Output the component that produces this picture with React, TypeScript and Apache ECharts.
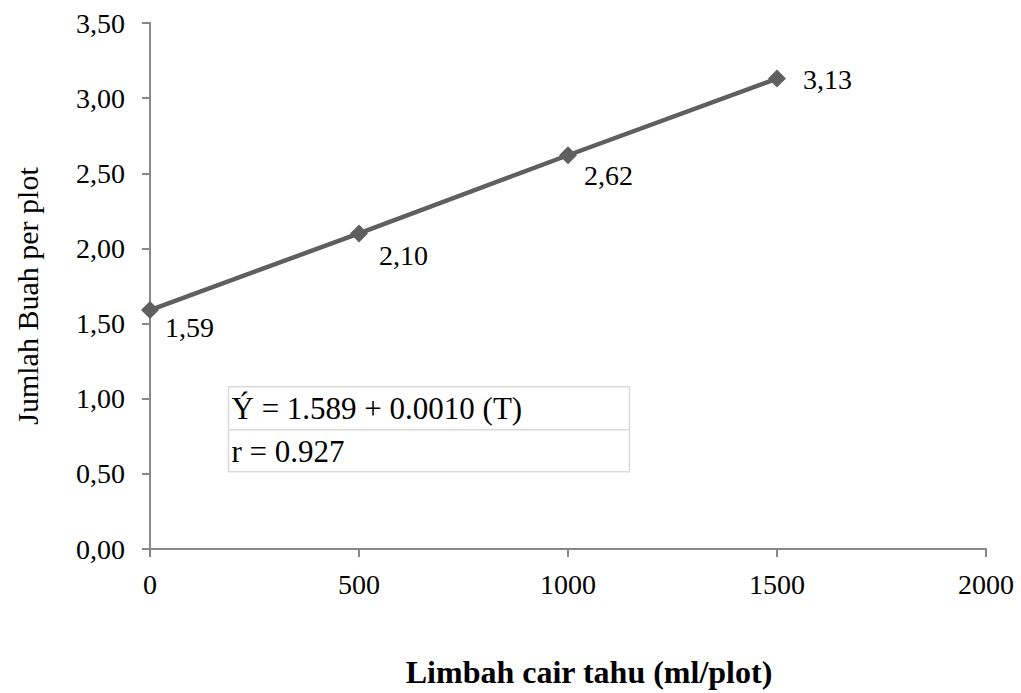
import React, { useEffect, useRef } from "react";
import * as echarts from "echarts";

const doses = [0, 500, 1000, 1500];
const fruitCount = [1.59, 2.1, 2.62, 3.13];
const equationLines = ["Ý = 1.589 + 0.0010 (T)", "r = 0.927"];
const xAxisTitle = "Limbah cair tahu (ml/plot)";
const yAxisTitle = "Jumlah Buah per plot";

const FONT = "'Liberation Serif', 'Times New Roman', serif";
const fmt = (v: number) => v.toFixed(2).replace(".", ",");

export default function App() {
  const ref = useRef<HTMLDivElement>(null);

  useEffect(() => {
    if (!ref.current) return;
    const chart = echarts.init(ref.current, undefined, { renderer: "svg" });

    // nudges for each point's value label, placed to the right of the marker
    const labelOffsets: [number, number][] = [
      [1, 17],
      [6, 22],
      [2, 20],
      [12, 1],
    ];

    chart.setOption({
      animation: false,
      backgroundColor: "#ffffff",
      textStyle: { fontFamily: FONT },
      grid: { left: 150, right: 35, top: 23, bottom: 144, containLabel: false },
      xAxis: {
        type: "value",
        min: 0,
        max: 2000,
        interval: 500,
        axisLine: { show: true, lineStyle: { color: "#888", width: 2 } },
        axisTick: { show: true, inside: false, length: 8, lineStyle: { color: "#888", width: 2 } },
        axisLabel: {
          color: "#000",
          fontSize: 28,
          fontFamily: FONT,
          margin: 21,
          formatter: (v: number) => String(v),
        },
        splitLine: { show: false },
      },
      yAxis: {
        type: "value",
        min: 0,
        max: 3.5,
        interval: 0.5,
        axisLine: { show: true, lineStyle: { color: "#888", width: 2 } },
        axisTick: { show: true, inside: false, length: 8, lineStyle: { color: "#888", width: 2 } },
        axisLabel: { color: "#000", fontSize: 28, fontFamily: FONT, margin: 25, formatter: (v: number) => fmt(v) },
        splitLine: { show: false },
      },
      series: [
        {
          type: "line",
          data: doses.map((d, i) => ({
            value: [d, fruitCount[i]],
            label: {
              show: true,
              position: "right",
              align: "left",
              verticalAlign: "middle",
              offset: labelOffsets[i],
            },
          })),
          symbol: "diamond",
          symbolSize: 18,
          itemStyle: { color: "#5f5f5f" },
          lineStyle: { color: "#5f5f5f", width: 4.5 },
          label: {
            color: "#000",
            fontSize: 28,
            fontFamily: FONT,
            formatter: (p: any) => fmt(p.value[1]),
          },
        },
      ],
      graphic: [
        // axis titles
        {
          type: "text",
          x: 589,
          y: 672,
          style: {
            text: xAxisTitle,
            font: `bold 32px ${FONT}`,
            fill: "#000",
            align: "center",
            verticalAlign: "middle",
          },
        },
        {
          type: "text",
          x: 27,
          y: 296,
          rotation: Math.PI / 2,
          style: {
            text: yAxisTitle,
            font: `30px ${FONT}`,
            fill: "#000",
            align: "center",
            verticalAlign: "middle",
          },
        },
        // regression equation box
        {
          type: "group",
          left: 226,
          top: 386,
          children: [
            { type: "rect", shape: { x: 0, y: 0, width: 401, height: 85 }, style: { fill: "#fff", stroke: "#d9d9d9", lineWidth: 1.5 } },
            { type: "line", shape: { x1: 0, y1: 43, x2: 401, y2: 43 }, style: { stroke: "#d9d9d9", lineWidth: 1.5 } },
            { type: "text", x: 3, y: 22, style: { text: equationLines[0], font: `31px ${FONT}`, fill: "#000", verticalAlign: "middle" } },
            { type: "text", x: 3, y: 65, style: { text: equationLines[1], font: `31px ${FONT}`, fill: "#000", verticalAlign: "middle" } },
          ],
        },
      ],
    });

    return () => chart.dispose();
  }, []);

  return (
    <div
      ref={ref}
      style={{ position: "absolute", left: 0, top: 0, width: 1021, height: 693 }}
    />
  );
}
